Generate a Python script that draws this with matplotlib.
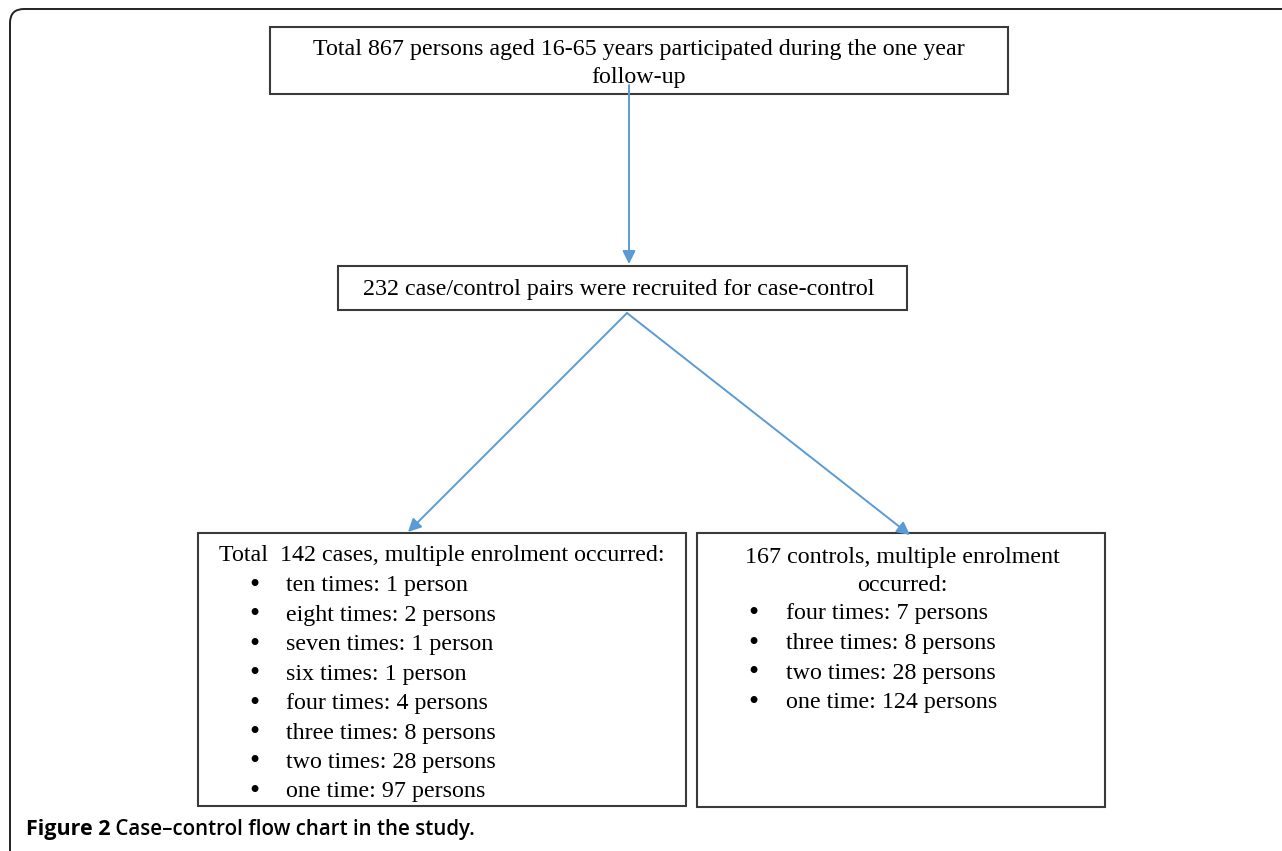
import matplotlib.pyplot as plt
from matplotlib.patches import Rectangle, FancyArrowPatch, PathPatch
from matplotlib.path import Path

# Box texts
top_text = ["Total 867 persons aged 16-65 years participated during the one year",
            "follow-up"]
mid_text = ["232 case/control pairs were recruited for case-control"]

cases_title = ["Total  142 cases, multiple enrolment occurred:"]
cases_items = ["ten times: 1 person", "eight times: 2 persons", "seven times: 1 person",
               "six times: 1 person", "four times: 4 persons", "three times: 8 persons",
               "two times: 28 persons", "one time: 97 persons"]

controls_title = ["167 controls, multiple enrolment", "occurred:"]
controls_items = ["four times: 7 persons", "three times: 8 persons",
                  "two times: 28 persons", "one time: 124 persons"]

caption_bold = "Figure 2"
caption_rest = " Case\u2013control flow chart in the study."

W, H = 1282, 851
fig = plt.figure(figsize=(W / 100, H / 100), dpi=100)
ax = fig.add_axes([0, 0, 1, 1])
ax.set_xlim(0, W)
ax.set_ylim(H, 0)
ax.axis("off")

serif = "Liberation Serif"
fs = 17.3
edge = "#3a3a3a"
blue = "#5b9bd5"

# Outer frame: top and left edges with rounded corner
r = 14
verts = [(W + 5, 9), (10 + r, 9), (10, 9), (10, 9 + r), (10, H + 5)]
codes = [Path.MOVETO, Path.LINETO, Path.CURVE3, Path.CURVE3, Path.LINETO]
ax.add_patch(PathPatch(Path(verts, codes), fill=False, ec="#222222", lw=1.4))


def box(x0, y0, x1, y1):
    ax.add_patch(Rectangle((x0, y0), x1 - x0, y1 - y0, fill=False, ec=edge, lw=1.5, zorder=2))


def arrow(p0, p1):
    ax.add_patch(FancyArrowPatch(p0, p1, arrowstyle="-|>,head_length=6,head_width=3",
                                 color=blue, lw=1.4, mutation_scale=1.3, zorder=3,
                                 shrinkA=0, shrinkB=0))


def bullet(x, y):
    ax.text(x, y, "\u2022", ha="center", va="center", family=serif, fontsize=21)


# Top box
box(270, 27, 1008, 94)
for i, t in enumerate(top_text):
    ax.text(639, 50 + i * 28, t, ha="center", va="center", family=serif, fontsize=fs)

# Middle box
box(338, 266, 907, 310)
ax.text(619, 289, mid_text[0], ha="center", va="center", family=serif, fontsize=fs)

# Arrows
arrow((629, 85), (629, 264))
arrow((627, 313), (408, 532))
arrow((627, 313), (910, 535))

# Cases box
box(198, 533, 686, 806)
ax.text(442, 556, cases_title[0], ha="center", va="center", family=serif, fontsize=fs)
for i, t in enumerate(cases_items):
    y = 586 + i * 29.4
    bullet(254, y)
    ax.text(286, y, t, ha="left", va="center", family=serif, fontsize=fs)

# Controls box
box(697, 533, 1105, 807)
for i, t in enumerate(controls_title):
    ax.text(902, 557 + i * 28.5, t, ha="center", va="center", family=serif, fontsize=fs)
for i, t in enumerate(controls_items):
    y = 614 + i * 29.6
    bullet(753, y)
    ax.text(786, y, t, ha="left", va="center", family=serif, fontsize=fs)

# Caption
cap = ax.text(26, 829, caption_bold, ha="left", va="center", family="Open Sans",
              fontsize=15.5, fontweight="bold")
fig.canvas.draw()
bb = cap.get_window_extent()
ax.annotate(caption_rest, xy=(bb.x1, H - 829), xycoords="figure pixels",
            ha="left", va="center", family="Open Sans", fontsize=14.8, fontweight="semibold")

fig.savefig("out.png", dpi=100)
